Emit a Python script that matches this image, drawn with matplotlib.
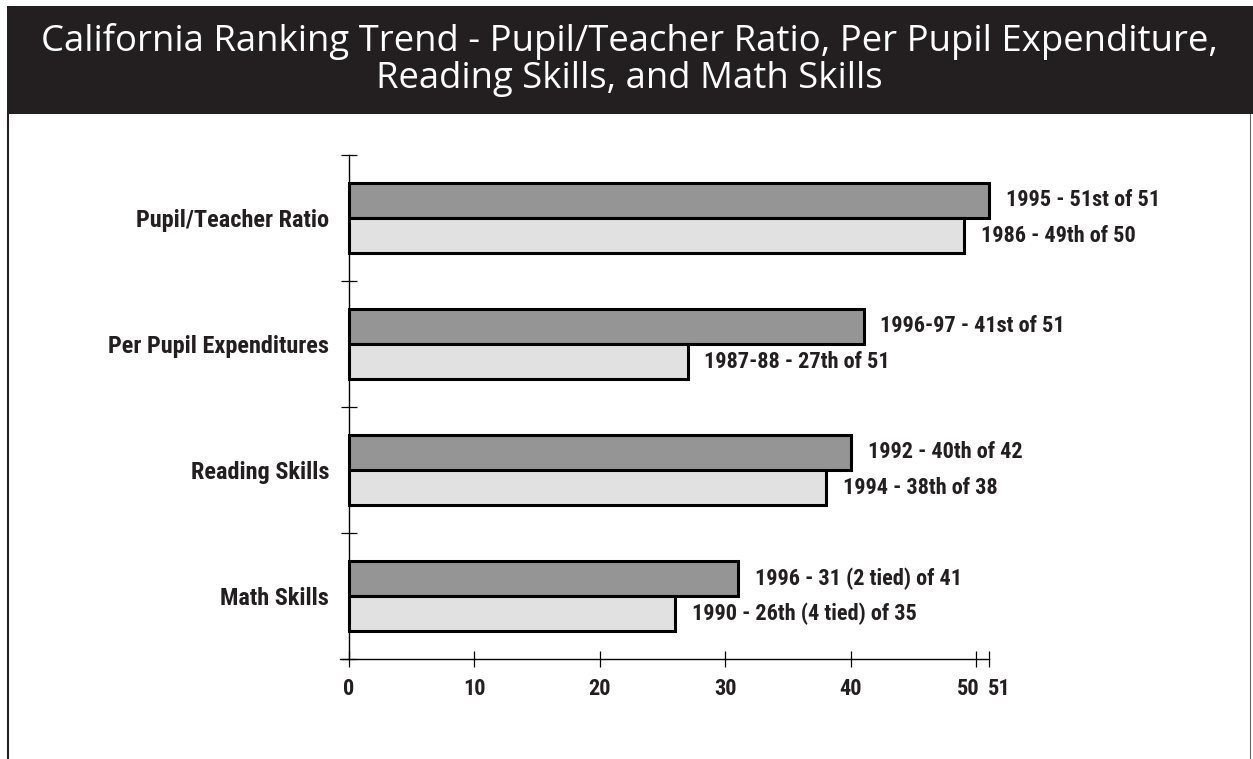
import matplotlib
matplotlib.use("Agg")
import matplotlib.pyplot as plt
from matplotlib import font_manager as fm
from matplotlib.font_manager import FontProperties
from matplotlib.patches import Rectangle
from matplotlib.lines import Line2D
from matplotlib.transforms import offset_copy

# --- data -------------------------------------------------------------
categories = ["Pupil/Teacher Ratio", "Per Pupil Expenditures",
              "Reading Skills", "Math Skills"]
upper_rank = [51, 41, 40, 31]
upper_text = ["1995 - 51st of 51", "1996-97 - 41st of 51",
              "1992 - 40th of 42", "1996 - 31 (2 tied) of 41"]
lower_rank = [49, 27, 38, 26]
lower_text = ["1986 - 49th of 50", "1987-88 - 27th of 51",
              "1994 - 38th of 38", "1990 - 26th (4 tied) of 35"]
x_ticks = [0, 10, 20, 30, 40, 50, 51]

title_lines = ["California Ranking Trend - Pupil/Teacher Ratio, Per Pupil Expenditure,",
               "Reading Skills, and Math Skills"]

# --- styling ----------------------------------------------------------
W, H = 1253, 759
INK = "#231f20"
DARK = "#959595"
LIGHT = "#e1e1e1"


def _weight(f):
    w = f.weight
    if isinstance(w, str):
        w = fm.weight_dict.get(w, 400)
    return int(w)


def _is_condensed(f):
    s = str(f.stretch).lower()
    name = (f.name + " " + f.fname).lower()
    return ("condensed" in s and "extra" not in s and "ultra" not in s) \
        or "narrow" in name or ("condensed" in name and "extra" not in name
                                and "semi" not in name)


def condensed_bold():
    """Pick a bold, condensed sans face from the installed fonts."""
    fonts = [f for f in fm.fontManager.ttflist
             if 650 <= _weight(f) <= 750 and "italic" not in f.style
             and "oblique" not in f.style]
    prefs = ["Liberation Sans Narrow", "Roboto Condensed", "Noto Sans",
             "Open Sans", "DejaVu Sans"]
    for p in prefs:
        for f in fonts:
            if f.name.startswith(p) and _is_condensed(f):
                return FontProperties(fname=f.fname)
    for f in fonts:
        if _is_condensed(f):
            return FontProperties(fname=f.fname)
    return FontProperties(family=["Roboto", "DejaVu Sans"], weight="bold")


LABEL_FP = condensed_bold()


def label_fp(size):
    fp = LABEL_FP.copy()
    fp.set_size(size)
    return fp


def fx(px):
    return px / W


def fy(py):
    return 1 - py / H


fig = plt.figure(figsize=(W / 100, H / 100), dpi=100)
fig.patch.set_facecolor("white")

# header band and frame
fig.add_artist(Rectangle((fx(7), fy(114)), fx(W) - fx(7), (114 - 6) / H,
                         transform=fig.transFigure, facecolor=INK,
                         edgecolor="none"))
fig.add_artist(Line2D([fx(8.3), fx(8.3)], [fy(114), 0],
                      transform=fig.transFigure, color=INK, lw=1.5))
fig.add_artist(Line2D([fx(1250), fx(1250)], [fy(114), 0],
                      transform=fig.transFigure, color="#666666", lw=0.8))

# title, scaled to fill the band width
title_objs = []
for line, yy in zip(title_lines, [41, 79]):
    t = fig.text(fx(629.5), fy(yy), line, ha="center", va="center",
                 color="white", fontsize=22,
                 family=["Open Sans", "DejaVu Sans"], fontweight="normal")
    title_objs.append(t)
renderer = fig.canvas.get_renderer()
w0 = title_objs[0].get_window_extent(renderer).width
scale = 1178 / w0
for t in title_objs:
    t.set_fontsize(22 * scale)

# chart axes
x0_px, x51_px = 349, 989
ppu = (x51_px - x0_px) / 51
ax = fig.add_axes([fx(340), fy(659), (989 - 340) / W, (659 - 155) / H])
ax.set_xlim(-(x0_px - 340) / ppu, 51)
ax.set_ylim(len(categories), 0)

bar_h = 0.28
centers = [i + 0.5 for i in range(len(categories))]
up_y = [c - bar_h / 2 for c in centers]
lo_y = [c + bar_h / 2 for c in centers]

ax.barh(up_y, upper_rank, height=bar_h, color=DARK, edgecolor="black",
        linewidth=2.2, clip_on=False, zorder=2)
ax.barh(lo_y, lower_rank, height=bar_h, color=LIGHT, edgecolor="black",
        linewidth=2.2, clip_on=False, zorder=2)

for y, v, s in list(zip(up_y, upper_rank, upper_text)) + \
        list(zip(lo_y, lower_rank, lower_text)):
    ax.annotate(s, (v, y), xytext=(12, 0), textcoords="offset points",
                ha="left", va="center", fontproperties=label_fp(16),
                color=INK, annotation_clip=False)

for side in ("top", "right"):
    ax.spines[side].set_visible(False)
ax.spines["left"].set_position(("data", 0))
ax.spines["left"].set_linewidth(1.0)
ax.spines["bottom"].set_linewidth(1.0)
ax.spines["left"].set_zorder(3)

ax.set_xticks(x_ticks)
ax.set_xticklabels([str(v) for v in x_ticks])
ax.tick_params(axis="x", direction="inout", length=11.5, width=0.9,
               pad=8, labelcolor=INK)
for lab in ax.get_xticklabels():
    lab.set_fontproperties(label_fp(16))
# the two closest ticks get their labels nudged apart
xlabs = ax.get_xticklabels()
xlabs[-2].set_transform(offset_copy(xlabs[-2].get_transform(), fig=fig,
                                    x=-8, y=0, units="dots"))
xlabs[-1].set_transform(offset_copy(xlabs[-1].get_transform(), fig=fig,
                                    x=10, y=0, units="dots"))

ax.set_yticks(range(len(categories) + 1))
ax.set_yticklabels([])
ax.tick_params(axis="y", which="major", direction="inout", length=11.5,
               width=0.9)
ax.set_yticks(centers, minor=True)
ax.set_yticklabels(categories, minor=True)
ax.tick_params(axis="y", which="minor", length=0, pad=14.4,
               labelcolor=INK)
for lab in ax.get_yticklabels(minor=True):
    lab.set_fontproperties(label_fp(17.5))

fig.savefig("out.png", dpi=100)
